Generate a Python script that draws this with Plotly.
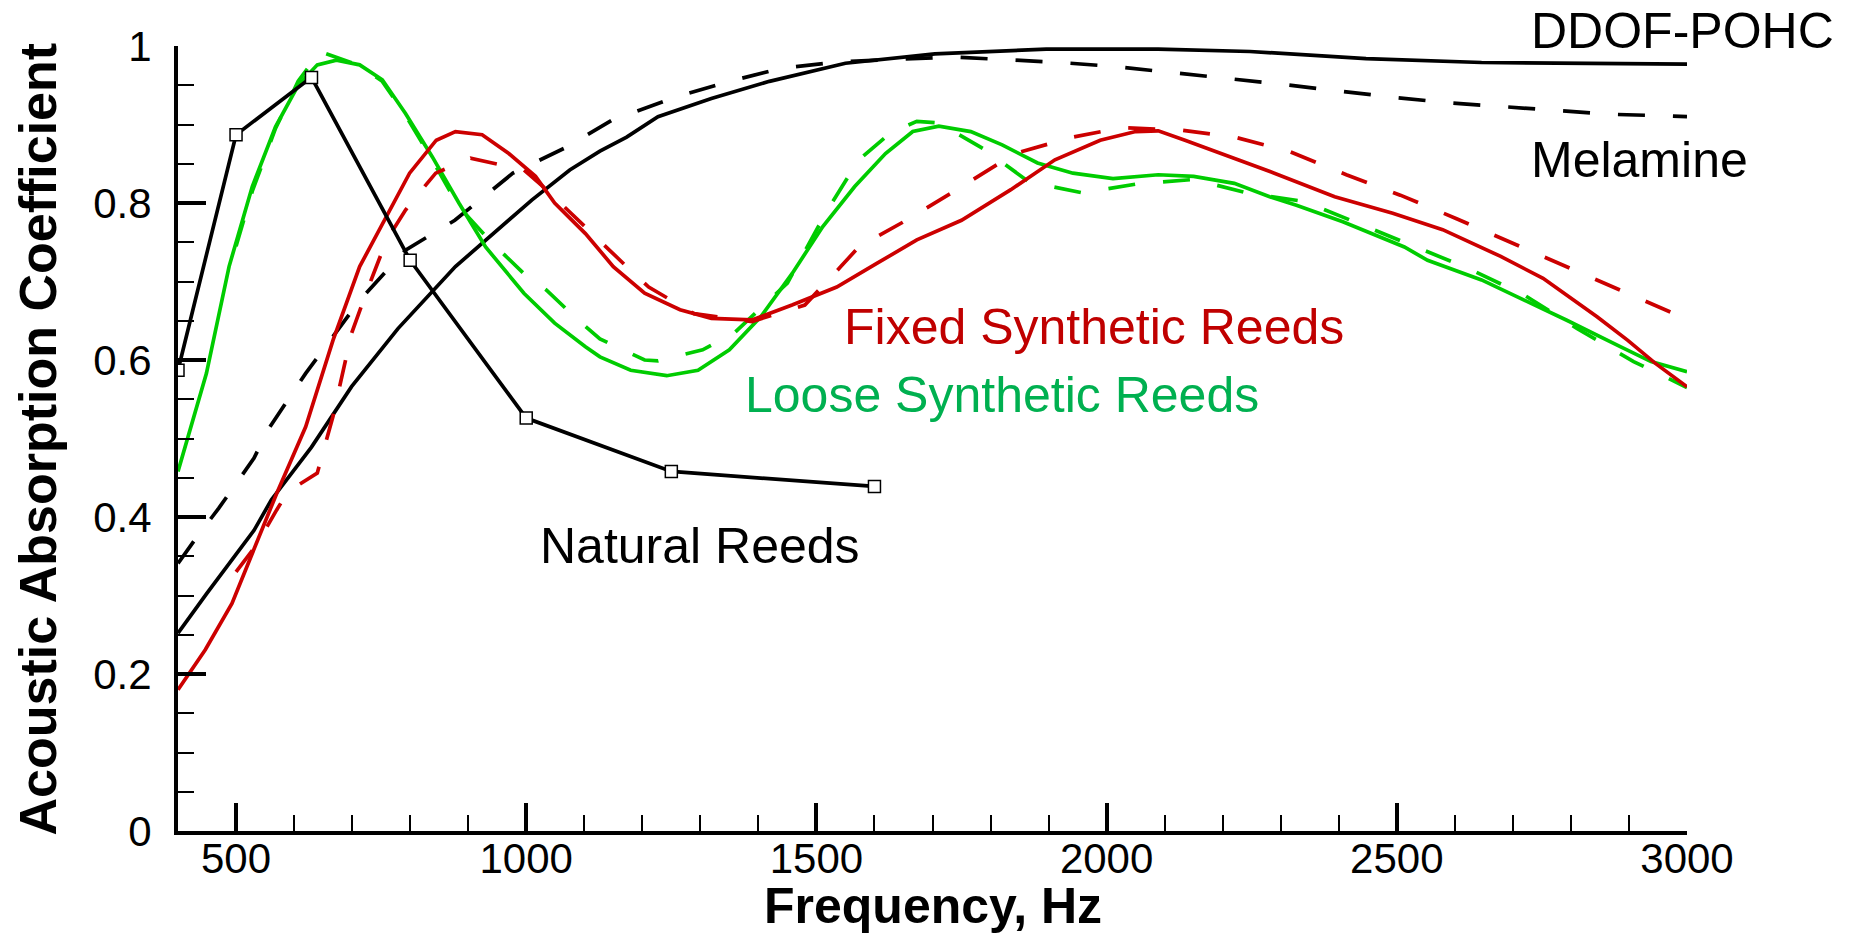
import plotly.graph_objects as go

# ---------------- data ----------------
nat_freq = [400, 500, 630, 800, 1000, 1250, 1600]
nat_abs = [0.587, 0.887, 0.960, 0.727, 0.526, 0.458, 0.439]

ddof_freq = [400, 450, 531, 561, 630, 699, 779, 878, 1010, 1075, 1127, 1173, 1227, 1319,
             1419, 1550, 1704, 1896, 2089, 2247, 2447, 2646, 3000]
ddof_abs = [0.252, 0.303, 0.383, 0.422, 0.489, 0.566, 0.640, 0.719, 0.804, 0.842, 0.866, 0.884,
            0.910, 0.933, 0.955, 0.978, 0.990, 0.996, 0.996, 0.993, 0.984, 0.979, 0.977]

mel_freq = [400, 431, 470, 531, 555, 620, 713, 792, 877, 977, 1069, 1149, 1258, 1350, 1442,
            1542, 1735, 1827, 1920, 2011, 2108, 2204, 2304, 2394, 2490, 2583, 2678, 2771,
            2868, 2965, 3000]
mel_abs = [0.341, 0.373, 0.411, 0.475, 0.511, 0.583, 0.676, 0.740, 0.778, 0.838, 0.871, 0.906,
           0.935, 0.955, 0.972, 0.980, 0.986, 0.983, 0.979, 0.974, 0.967, 0.959, 0.951, 0.943,
           0.935, 0.928, 0.923, 0.918, 0.913, 0.911, 0.910]

loose_freq = [400, 449, 488, 528, 568, 607, 640, 673, 713, 752, 792, 838, 884, 930, 996, 1049,
              1102, 1127, 1180, 1242, 1296, 1350, 1404, 1458, 1511, 1566, 1619, 1666, 1711,
              1766, 1820, 1881, 1942, 2011, 2089, 2150, 2220, 2281, 2327, 2407, 2513, 2553,
              2646, 2712, 2792, 2885, 2938, 3000]
loose_abs = [0.458, 0.583, 0.719, 0.821, 0.897, 0.950, 0.976, 0.982, 0.976, 0.957, 0.914, 0.859,
             0.800, 0.744, 0.685, 0.647, 0.617, 0.604, 0.587, 0.580, 0.587, 0.613, 0.655, 0.710,
             0.770, 0.821, 0.863, 0.891, 0.898, 0.891, 0.874, 0.851, 0.838, 0.831, 0.836, 0.834,
             0.825, 0.808, 0.797, 0.776, 0.744, 0.727, 0.702, 0.679, 0.651, 0.617, 0.598, 0.585]

loose_m_freq = [500, 528, 568, 607, 645, 713, 752, 792, 838, 884, 940, 996, 1035, 1089, 1127,
                1204, 1227, 1304, 1358, 1450, 1519, 1573, 1627, 1673, 1711, 1790, 1866, 1958,
                2050, 2150, 2247, 2340, 2434, 2527, 2622, 2719, 2811, 2908, 3000]
loose_m_abs = [0.745, 0.815, 0.895, 0.955, 0.993, 0.975, 0.955, 0.912, 0.855, 0.795, 0.750,
               0.710, 0.689, 0.651, 0.627, 0.600, 0.599, 0.613, 0.634, 0.698, 0.791, 0.855,
               0.889, 0.904, 0.902, 0.868, 0.827, 0.813, 0.824, 0.830, 0.812, 0.802, 0.774,
               0.746, 0.717, 0.683, 0.640, 0.598, 0.565]

fixed_freq = [400, 447, 493, 531, 570, 620, 667, 713, 759, 799, 845, 878, 924, 970, 1016, 1049,
              1102, 1150, 1204, 1265, 1319, 1389, 1458, 1535, 1604, 1673, 1750, 1835, 1911,
              1989, 2050, 2089, 2135, 2212, 2289, 2393, 2493, 2579, 2679, 2752, 2845, 2898,
              2945, 3000]
fixed_abs = [0.180, 0.231, 0.290, 0.358, 0.430, 0.515, 0.625, 0.719, 0.782, 0.838, 0.880, 0.891,
             0.887, 0.863, 0.834, 0.800, 0.761, 0.719, 0.685, 0.664, 0.653, 0.651, 0.670, 0.693,
             0.723, 0.753, 0.778, 0.817, 0.855, 0.880, 0.891, 0.892, 0.880, 0.859, 0.838, 0.808,
             0.787, 0.766, 0.732, 0.704, 0.655, 0.625, 0.596, 0.566]

fixed_m_freq = [500, 535, 570, 589, 640, 667, 699, 726, 759, 792, 818, 844, 904, 944, 996, 1029,
                1082, 1173, 1211, 1289, 1389, 1480, 1542, 1573, 1650, 1742, 1842, 1942, 2027,
                2127, 2220, 2314, 2413, 2506, 2603, 2699, 2792, 2885, 2978, 3000]
fixed_m_abs = [0.330, 0.364, 0.409, 0.432, 0.456, 0.528, 0.634, 0.689, 0.752, 0.791, 0.815,
               0.838, 0.857, 0.851, 0.842, 0.821, 0.783, 0.719, 0.693, 0.659, 0.649, 0.670,
               0.719, 0.744, 0.776, 0.817, 0.863, 0.884, 0.896, 0.893, 0.884, 0.866, 0.836,
               0.810, 0.780, 0.749, 0.719, 0.689, 0.659, 0.655]

x_ticks = [500, 1000, 1500, 2000, 2500, 3000]
y_ticks = [0, 0.2, 0.4, 0.6, 0.8, 1]
y_ticktext = ["0", "0.2", "0.4", "0.6", "0.8", "1"]

labels = [
    ("DDOF-POHC", 2728, 1.019, "black"),
    ("Melamine", 2728, 0.855, "black"),
    ("Fixed Synthetic Reeds", 1544, 0.642, "#C00000"),
    ("Loose Synthetic Reeds", 1373, 0.555, "#00B050"),
    ("Natural Reeds", 1020, 0.363, "black"),
]

# ---------------- figure ----------------
RED = "#CC0000"
GREEN = "#00CC00"
DASH = "27px,28px"
LW = 3.7

fig = go.Figure()
fig.add_trace(go.Scatter(x=mel_freq, y=mel_abs, mode="lines",
                         line=dict(color="black", width=LW, dash=DASH)))
fig.add_trace(go.Scatter(x=ddof_freq, y=ddof_abs, mode="lines",
                         line=dict(color="black", width=LW)))
fig.add_trace(go.Scatter(x=loose_m_freq, y=loose_m_abs, mode="lines",
                         line=dict(color=GREEN, width=LW, dash=DASH)))
fig.add_trace(go.Scatter(x=loose_freq, y=loose_abs, mode="lines",
                         line=dict(color=GREEN, width=LW)))
fig.add_trace(go.Scatter(x=fixed_m_freq, y=fixed_m_abs, mode="lines",
                         line=dict(color=RED, width=LW, dash=DASH)))
fig.add_trace(go.Scatter(x=fixed_freq, y=fixed_abs, mode="lines",
                         line=dict(color=RED, width=LW)))
fig.add_trace(go.Scatter(x=nat_freq, y=nat_abs, mode="lines+markers",
                         line=dict(color="black", width=LW),
                         marker=dict(symbol="square", size=12, color="white",
                                     line=dict(color="black", width=1.5))))

for text, x, y, col in labels:
    # y values are in data units; y-range is [0, 1] so paper coords coincide
    fig.add_annotation(x=x, y=y, xref="x", yref="paper", text=text, showarrow=False,
                       xanchor="left", yanchor="middle",
                       font=dict(family="Liberation Sans, Arial", size=50, color=col))

fig.add_annotation(x=-0.0928, y=0.5, xref="paper", yref="paper",
                   text="Acoustic Absorption Coefficient", showarrow=False, textangle=-90,
                   xanchor="center", yanchor="middle",
                   font=dict(family="Liberation Sans, Arial", size=52, color="black", weight="bold"))
fig.add_annotation(x=0.5, y=-0.096, xref="paper", yref="paper",
                   text="Frequency, Hz", showarrow=False, borderpad=0,
                   xanchor="center", yanchor="middle",
                   font=dict(family="Liberation Sans, Arial", size=50, color="black", weight="bold"))

axis_common = dict(showgrid=False, zeroline=False, showline=True, linecolor="black",
                   linewidth=4, ticks="inside", ticklen=28, tickwidth=4, tickcolor="black",
                   mirror=False,
                   tickfont=dict(family="Liberation Sans, Arial", size=42, color="black"))

fig.update_xaxes(range=[400, 3000], tickvals=x_ticks, ticktext=[str(v) for v in x_ticks],
                 ticklabelstandoff=-12,
                 minor=dict(ticks="inside", ticklen=16, tickwidth=2, tickcolor="black",
                            tick0=0, dtick=100),
                 **axis_common)
fig.update_yaxes(range=[0, 1], tickvals=y_ticks, ticktext=y_ticktext,
                 ticklabelstandoff=14,
                 minor=dict(ticks="inside", ticklen=16, tickwidth=2, tickcolor="black",
                            tick0=0, dtick=0.05),
                 **axis_common)

fig.update_layout(width=1854, height=936, showlegend=False,
                  margin=dict(l=178, r=167, t=46, b=105, pad=0),
                  plot_bgcolor="white", paper_bgcolor="white")

fig.write_html("out.html", config={"displayModeBar": False},
               post_script="document.body.style.margin='0';document.body.style.overflow='hidden';")
